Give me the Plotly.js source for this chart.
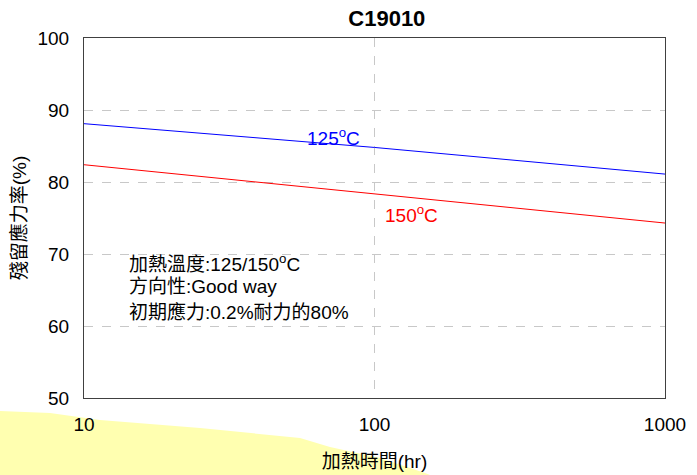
<!DOCTYPE html>
<html>
<head>
<meta charset="utf-8">
<script src="https://cdn.plot.ly/plotly-3.0.1.min.js"></script>
<style>body{margin:0;padding:0;background:#fff}#chart{width:697px;height:475px}</style>
</head>
<body>
<div id="chart"></div>
<script>
const hours = [10, 100, 1000];
const series125 = [88.1, 84.8, 81.1];
const series150 = [82.4, 78.3, 74.3];
const seriesNames = ['125<sup>o</sup>C', '150<sup>o</sup>C'];
const noteLines = ['加熱溫度:125/150<sup>o</sup>C', '方向性:Good way', '初期應力:0.2%耐力的80%'];
const xTicks = [10, 100, 1000];
const yTicks = [50, 60, 70, 80, 90, 100];

const mixed = '"Liberation Sans", Arial, "Noto Sans CJK TC", sans-serif';
const latin = '"Liberation Sans", Arial, sans-serif';

const traces = [
  {x: hours, y: series125, mode: 'lines', line: {color: '#0000ff', width: 1}, name: seriesNames[0], hoverinfo: 'skip'},
  {x: hours, y: series150, mode: 'lines', line: {color: '#ff0000', width: 1}, name: seriesNames[1], hoverinfo: 'skip'}
];

const noteFont = {family: mixed, size: 19, color: '#000'};
const annotations = [
  {x: 1.762, y: 86.3, xref: 'x', yref: 'y', text: seriesNames[0], showarrow: false, xanchor: 'left', yanchor: 'middle', font: {family: latin, size: 19, color: '#0000ff'}},
  {x: 2.03, y: 75.5, xref: 'x', yref: 'y', text: seriesNames[1], showarrow: false, xanchor: 'left', yanchor: 'middle', font: {family: latin, size: 19, color: '#ff0000'}},
  {x: 0.074, y: 0.375, xref: 'paper', yref: 'paper', text: noteLines[0], showarrow: false, xanchor: 'left', yanchor: 'middle', font: noteFont},
  {x: 0.074, y: 0.311, xref: 'paper', yref: 'paper', text: noteLines[1], showarrow: false, xanchor: 'left', yanchor: 'middle', font: noteFont},
  {x: 0.074, y: 0.24, xref: 'paper', yref: 'paper', text: noteLines[2], showarrow: false, xanchor: 'left', yanchor: 'middle', font: noteFont}
];

function px(x){ return (x - 84) / 581; }
function py(y){ return (398 - y) / 360; }
const blobPts = [[0,411],[50,413],[100,420],[200,428],[300,438],[330,447],[380,458],[425,473],[430,475],[0,475]];
const blobPath = 'M ' + blobPts.map(p => px(p[0]).toFixed(4) + ',' + py(p[1]).toFixed(4)).join(' L ') + ' Z';

const layout = {
  width: 697, height: 475,
  margin: {l: 84, r: 32, t: 38, b: 77},
  paper_bgcolor: '#fff', plot_bgcolor: '#fff',
  showlegend: false,
  title: {text: '<b>C19010</b>', x: 0.555, xanchor: 'center', y: 0.962, yanchor: 'middle', font: {family: latin, size: 22, color: '#000'}},
  xaxis: {
    type: 'log', range: [1, 3], tickvals: xTicks, ticktext: xTicks.map(String),
    showgrid: true, gridcolor: '#c8c8c8', griddash: 'dash', gridwidth: 1,
    showline: true, linecolor: '#404040', linewidth: 1, mirror: true,
    ticks: '', zeroline: false, ticklabelstandoff: 9,
    tickfont: {family: latin, size: 19, color: '#000'},
    title: {text: '加熱時間(hr)', font: {family: mixed, size: 19, color: '#000'}, standoff: 20}
  },
  yaxis: {
    range: [50, 100], tickvals: yTicks,
    showgrid: true, gridcolor: '#c8c8c8', griddash: 'dash', gridwidth: 1,
    showline: true, linecolor: '#404040', linewidth: 1, mirror: true,
    ticks: '', zeroline: false, ticklabelstandoff: 10,
    tickfont: {family: latin, size: 19, color: '#000'},
    title: {text: '殘留應力率(%)', font: {family: mixed, size: 19, color: '#000'}, standoff: 5}
  },
  shapes: [
    {type: 'path', xref: 'paper', yref: 'paper', path: blobPath, fillcolor: '#ffffb0', line: {width: 0}, layer: 'below'}
  ],
  annotations: annotations
};

Plotly.newPlot('chart', traces, layout, {displayModeBar: false, staticPlot: true});
</script>
</body>
</html>
